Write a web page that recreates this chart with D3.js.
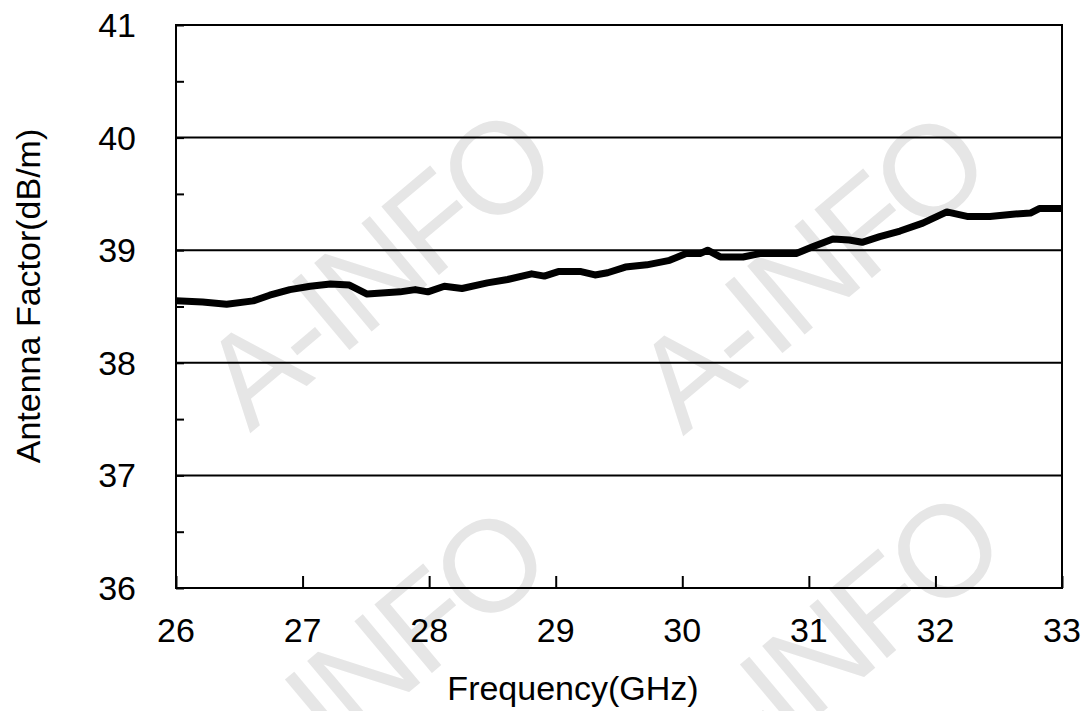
<!DOCTYPE html>
<html>
<head>
<meta charset="utf-8">
<script src="https://cdn.jsdelivr.net/npm/d3@7"></script>
<style>
  html, body { margin: 0; padding: 0; background: #fff; }
  svg { display: block; font-family: "Liberation Sans", Arial, sans-serif; }
</style>
</head>
<body>
<div id="chart"></div>
<script>
// values
const freqGHz = [26.00, 26.21, 26.40, 26.61, 26.74, 26.90, 27.06, 27.22, 27.37, 27.51,
  27.77, 27.89, 27.99, 28.12, 28.26, 28.46, 28.62, 28.81, 28.91, 29.02,
  29.20, 29.31, 29.41, 29.55, 29.72, 29.90, 30.03, 30.14, 30.20, 30.30,
  30.48, 30.61, 30.90, 31.03, 31.19, 31.32, 31.42, 31.56, 31.72, 31.90,
  32.09, 32.25, 32.43, 32.61, 32.75, 32.82, 33.00];
const antennaFactor = [38.55, 38.54, 38.52, 38.55, 38.60, 38.65, 38.68, 38.70, 38.69, 38.61,
  38.63, 38.65, 38.63, 38.68, 38.66, 38.71, 38.74, 38.79, 38.77, 38.81,
  38.81, 38.78, 38.80, 38.85, 38.87, 38.91, 38.97, 38.97, 39.00, 38.94,
  38.94, 38.97, 38.97, 39.03, 39.10, 39.09, 39.07, 39.12, 39.17, 39.24,
  39.34, 39.30, 39.30, 39.32, 39.33, 39.37, 39.37];
const xTicks = [26, 27, 28, 29, 30, 31, 32, 33];
const yTicks = [36, 37, 38, 39, 40, 41];
const yMinorTicks = [36.5, 37.5, 38.5, 39.5, 40.5];
const gridValues = [37, 38, 39, 40];
const watermarkText = "A-INFO";
const watermarkCenters = [[376, 269], [809, 272], [369, 667], [824, 652]];

const width = 1083, height = 711;
const margin = { left: 176, right: 21, top: 25, bottom: 123 };

const svg = d3.select("#chart").append("svg")
  .attr("width", width)
  .attr("height", height);

const x = d3.scaleLinear().domain([26, 33]).range([margin.left, width - margin.right]);
const y = d3.scaleLinear().domain([36, 41]).range([height - margin.bottom, margin.top]);

// faint watermark behind the chart
svg.append("g").selectAll("text")
  .data(watermarkCenters)
  .enter().append("text")
  .attr("transform", d => `translate(${d[0]},${d[1]}) rotate(-40)`)
  .attr("text-anchor", "middle")
  .attr("dominant-baseline", "central")
  .attr("font-size", 130)
  .attr("letter-spacing", -6)
  .attr("fill", "#e6e6e6")
  .text(watermarkText);

// gridlines
svg.append("g").selectAll("line")
  .data(gridValues)
  .enter().append("line")
  .attr("x1", x(26)).attr("x2", x(33))
  .attr("y1", d => y(d)).attr("y2", d => y(d))
  .attr("stroke", "#000")
  .attr("stroke-width", 2);

// y axis, ticks pointing inward
const yAxis = svg.append("g")
  .attr("transform", `translate(${x(26)},0)`)
  .call(d3.axisRight(y).tickValues(yTicks.concat(yMinorTicks)).tickSize(8).tickFormat(""));
yAxis.select(".domain").remove();
yAxis.selectAll("line").attr("stroke", "#000").attr("stroke-width", 2);

svg.append("g").selectAll("text")
  .data(yTicks)
  .enter().append("text")
  .attr("x", x(26) - 40)
  .attr("y", d => y(d))
  .attr("text-anchor", "end")
  .attr("dominant-baseline", "central")
  .attr("font-size", 34)
  .text(d => d);

// x axis, ticks pointing inward
const xAxis = svg.append("g")
  .attr("transform", `translate(0,${y(36)})`)
  .call(d3.axisTop(x).tickValues(xTicks).tickSize(12).tickFormat(""));
xAxis.select(".domain").remove();
xAxis.selectAll("line").attr("stroke", "#000").attr("stroke-width", 2);

svg.append("g").selectAll("text")
  .data(xTicks)
  .enter().append("text")
  .attr("x", d => x(d))
  .attr("y", 642)
  .attr("text-anchor", "middle")
  .attr("font-size", 34)
  .text(d => d);

// frame
svg.append("rect")
  .attr("x", x(26)).attr("y", y(41))
  .attr("width", x(33) - x(26)).attr("height", y(36) - y(41))
  .attr("fill", "none")
  .attr("stroke", "#000")
  .attr("stroke-width", 2);

// data line
const line = d3.line()
  .x((d, i) => x(freqGHz[i]))
  .y(d => y(d));

svg.append("path")
  .datum(antennaFactor)
  .attr("d", line)
  .attr("fill", "none")
  .attr("stroke", "#000")
  .attr("stroke-width", 7)
  .attr("stroke-linejoin", "round");

// axis titles
svg.append("text")
  .attr("x", (x(26) + x(33)) / 2 - 46)
  .attr("y", 700)
  .attr("text-anchor", "middle")
  .attr("font-size", 34)
  .text("Frequency(GHz)");

svg.append("text")
  .attr("transform", `translate(40,296) rotate(-90)`)
  .attr("text-anchor", "middle")
  .attr("font-size", 34)
  .text("Antenna Factor(dB/m)");
</script>
</body>
</html>
